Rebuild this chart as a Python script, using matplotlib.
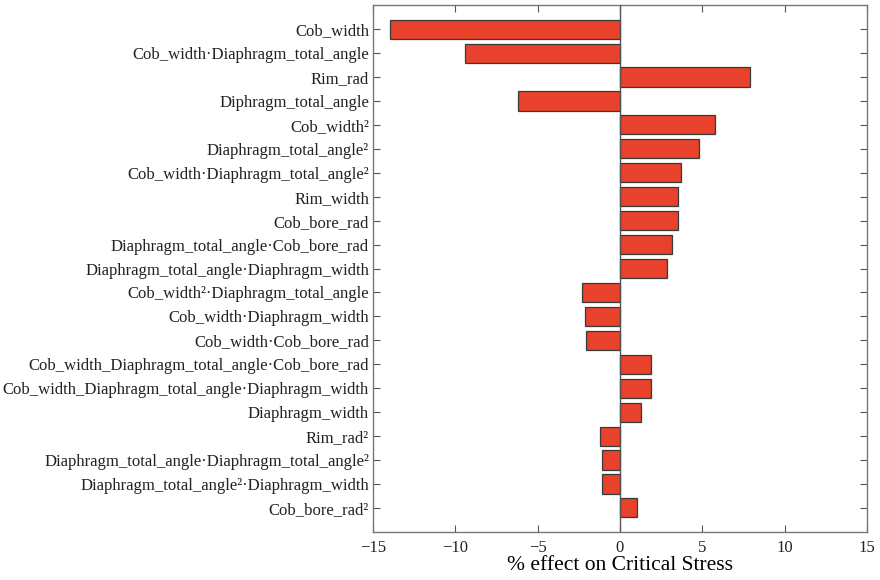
import matplotlib
matplotlib.use("Agg")
import matplotlib.pyplot as plt

# Effect terms, top to bottom
terms = [
    "Cob_width",
    "Cob_width·Diaphragm_total_angle",
    "Rim_rad",
    "Diphragm_total_angle",
    "Cob_width²",
    "Diaphragm_total_angle²",
    "Cob_width·Diaphragm_total_angle²",
    "Rim_width",
    "Cob_bore_rad",
    "Diaphragm_total_angle·Cob_bore_rad",
    "Diaphragm_total_angle·Diaphragm_width",
    "Cob_width²·Diaphragm_total_angle",
    "Cob_width·Diaphragm_width",
    "Cob_width·Cob_bore_rad",
    "Cob_width_Diaphragm_total_angle·Cob_bore_rad",
    "Cob_width_Diaphragm_total_angle·Diaphragm_width",
    "Diaphragm_width",
    "Rim_rad²",
    "Diaphragm_total_angle·Diaphragm_total_angle²",
    "Diaphragm_total_angle²·Diaphragm_width",
    "Cob_bore_rad²",
]
effects = [
    -14.0, -9.4, 7.9, -6.2, 5.8, 4.8, 3.7, 3.55, 3.5, 3.15, 2.83,
    -2.32, -2.14, -2.06, 1.86, 1.86, 1.3, -1.23, -1.07, -1.07, 1.05,
]
xticks = [-15, -10, -5, 0, 5, 10, 15]

plt.rcParams["font.family"] = ["Liberation Serif", "DejaVu Serif"]
plt.rcParams["axes.unicode_minus"] = True

fig = plt.figure(figsize=(8.8, 5.8), dpi=100)
ax = fig.add_axes([0.424, 0.083, 0.561, 0.908])

pos = list(range(1, len(terms) + 1))
ax.barh(pos, effects, height=0.8, color="#E8412C", edgecolor="#3a3a3a",
        linewidth=0.9, zorder=2)
ax.axvline(0, color="#555555", linewidth=1.0, zorder=3)

ax.set_ylim(len(terms) + 1, 0)
ax.set_xlim(-15, 15)
ax.set_yticks(pos)
ax.set_yticklabels(terms, fontsize=12)
ax.set_xticks(xticks)
ax.set_xticklabels([("−" if v < 0 else "") + str(abs(v)) for v in xticks],
                   fontsize=12)
ax.set_xlabel("% effect on Critical Stress", fontsize=15.5, labelpad=0)

for s in ax.spines.values():
    s.set_color("#777777")
    s.set_linewidth(1.0)
ax.tick_params(axis="both", direction="in", top=True, right=True,
               length=5, width=0.8, color="#555555", labelcolor="#222222")
ax.tick_params(axis="x", pad=6)
ax.tick_params(axis="y", pad=3)

fig.savefig("out.png", dpi=100)
